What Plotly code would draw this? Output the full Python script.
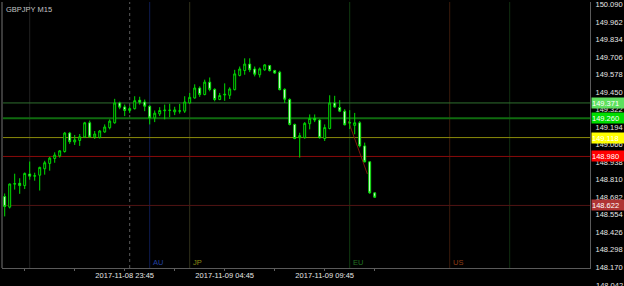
import pandas as pd
import plotly.graph_objects as go

# ---- data ----
first_bar = "2017-11-08 17:45"
bar_minutes = 15

opens = [148.687, 148.610, 148.778, 148.784, 148.767, 148.852, 148.836, 148.843, 148.890, 148.929,
         148.965, 148.984, 149.016, 149.151, 149.086, 149.097, 149.122, 149.226, 149.122, 149.119,
         149.159, 149.190, 149.226, 149.371, 149.342, 149.316, 149.329, 149.391, 149.378, 149.347,
         149.262, 149.291, 149.314, 149.316, 149.306, 149.311, 149.311, 149.371, 149.407, 149.480,
         149.432, 149.523, 149.470, 149.396, 149.429, 149.427, 149.468, 149.572, 149.608, 149.655,
         149.619, 149.577, 149.613, 149.644, 149.608, 149.596, 149.470, 149.396, 149.214, 149.117,
         149.117, 149.219, 149.258, 149.246, 149.111, 149.184, 149.371, 149.338, 149.311, 149.224,
         149.207, 149.226, 149.057, 148.941, 148.714]
highs = [148.709, 148.781, 148.854, 148.821, 148.863, 148.943, 148.861, 148.905, 148.948, 148.977,
         149.010, 149.026, 149.159, 149.159, 149.137, 149.144, 149.233, 149.242, 149.166, 149.173,
         149.214, 149.251, 149.401, 149.380, 149.359, 149.347, 149.420, 149.416, 149.396, 149.354,
         149.316, 149.340, 149.359, 149.365, 149.343, 149.364, 149.420, 149.444, 149.507, 149.492,
         149.541, 149.557, 149.478, 149.444, 149.514, 149.485, 149.613, 149.637, 149.697, 149.697,
         149.637, 149.630, 149.654, 149.649, 149.613, 149.606, 149.478, 149.405, 149.220, 149.153,
         149.231, 149.287, 149.287, 149.253, 149.214, 149.427, 149.423, 149.391, 149.325, 149.318,
         149.298, 149.238, 149.081, 148.945, 148.718]
lows = [148.542, 148.600, 148.738, 148.707, 148.742, 148.810, 148.803, 148.731, 148.847, 148.876,
        148.934, 148.972, 149.008, 149.072, 149.064, 149.057, 149.115, 149.117, 149.108, 149.111,
        149.153, 149.178, 149.219, 149.325, 149.275, 149.296, 149.323, 149.359, 149.311, 149.214,
        149.231, 149.275, 149.251, 149.267, 149.282, 149.293, 149.298, 149.365, 149.403, 149.415,
        149.427, 149.456, 149.383, 149.391, 149.386, 149.400, 149.463, 149.565, 149.577, 149.596,
        149.565, 149.557, 149.606, 149.601, 149.584, 149.463, 149.371, 149.207, 149.106, 148.972,
        149.110, 149.178, 149.231, 149.110, 149.093, 149.178, 149.335, 149.304, 149.207, 149.180,
        149.142, 149.046, 148.936, 148.707, 148.678]
closes = [148.615, 148.779, 148.781, 148.767, 148.856, 148.836, 148.839, 148.900, 148.934, 148.968,
          148.990, 149.021, 149.151, 149.088, 149.101, 149.124, 149.226, 149.122, 149.144, 149.166,
          149.195, 149.238, 149.371, 149.340, 149.316, 149.330, 149.387, 149.376, 149.347, 149.262,
          149.296, 149.316, 149.318, 149.318, 149.320, 149.313, 149.378, 149.412, 149.480, 149.432,
          149.523, 149.470, 149.396, 149.425, 149.434, 149.473, 149.583, 149.619, 149.655, 149.613,
          149.581, 149.620, 149.649, 149.607, 149.589, 149.468, 149.398, 149.214, 149.111, 149.132,
          149.222, 149.258, 149.246, 149.117, 149.191, 149.371, 149.341, 149.311, 149.211, 149.227,
          149.226, 149.057, 148.941, 148.714, 148.682]

# horizontal price levels: (price, line colour, line width, tag colour)
level_prices = [149.371, 149.260, 149.118, 148.980, 148.622]
level_line_colors = ["#2f6f2f", "#0f6a0f", "#8a8a0a", "#8a0a0a", "#501414"]
level_line_widths = [1, 2, 1, 1, 1]
level_tag_colors = ["#5ee05e", "#00dd00", "#ffff00", "#ff0000", "#b03434"]

# session separators
session_names = ["AU", "JP", "EU", "US"]
session_times = ["2017-11-09 01:00", "2017-11-09 03:00", "2017-11-09 11:00", "2017-11-09 16:00"]
session_colors = ["#0e1c52", "#30301a", "#113a11", "#3a1b0c"]
session_text_colors = ["#2040a0", "#8c8c14", "#207020", "#8c3c14"]
other_vlines = ["2017-11-08 19:00", "2017-11-09 19:00"]
other_vline_colors = ["#202020", "#112f11"]
day_separator = "2017-11-09 00:00"

# drawn trend line
trend_times = ["2017-11-09 10:56", "2017-11-09 11:53"]
trend_prices = [149.238, 148.852]

# axes
x_range = ["2017-11-08 17:36:54", "2017-11-09 23:00:54"]
y_range = [148.165, 150.1085]
x_tick_times = ["2017-11-08 18:45", "2017-11-08 21:15", "2017-11-08 23:45", "2017-11-09 02:15",
                "2017-11-09 04:45", "2017-11-09 07:15", "2017-11-09 09:45", "2017-11-09 12:15"]
x_tick_text = ["", "", "2017-11-08 23:45", "", "2017-11-09 04:45", "", "2017-11-09 09:45", ""]
y_ticks = [148.170, 148.298, 148.426, 148.554, 148.682, 148.810, 148.938, 149.066, 149.194,
           149.322, 149.450, 149.578, 149.706, 149.834, 149.962, 150.090]
y_tick_below = 148.042
title_text = "GBPJPY M15"

# ---- figure ----
times = pd.date_range(first_bar, periods=len(opens), freq=f"{bar_minutes}min")
FONT = "Liberation Sans"
CANDLE = "#00dc00"

fig = go.Figure()
fig.add_trace(go.Candlestick(
    x=times, open=opens, high=highs, low=lows, close=closes,
    increasing=dict(line=dict(color=CANDLE, width=1), fillcolor="#000000"),
    decreasing=dict(line=dict(color=CANDLE, width=1), fillcolor="#ffffff"),
    whiskerwidth=0, hoverinfo="skip", showlegend=False,
))

shapes = []
for t, c in zip(other_vlines, other_vline_colors):
    shapes.append(dict(type="line", xref="x", yref="paper", x0=t, x1=t, y0=0, y1=1,
                       line=dict(color=c, width=1), layer="below"))
shapes.append(dict(type="line", xref="x", yref="paper", x0=day_separator, x1=day_separator,
                   y0=0, y1=1, line=dict(color="#5a5a5a", width=1, dash="dot"), layer="below"))
for t, c in zip(session_times, session_colors):
    shapes.append(dict(type="line", xref="x", yref="paper", x0=t, x1=t, y0=0, y1=1,
                       line=dict(color=c, width=1), layer="below"))
for p, c, w in zip(level_prices, level_line_colors, level_line_widths):
    shapes.append(dict(type="line", xref="paper", yref="y", x0=0, x1=1, y0=p, y1=p,
                       line=dict(color=c, width=w), layer="below"))
shapes.append(dict(type="line", xref="x", yref="y", x0=trend_times[0], x1=trend_times[1],
                   y0=trend_prices[0], y1=trend_prices[1],
                   line=dict(color="#7a1a0a", width=1), layer="below"))
# left frame edge
shapes.append(dict(type="line", xref="paper", yref="paper", x0=0, x1=0, y0=0, y1=1,
                   line=dict(color="#3a3a3a", width=2)))

annotations = [dict(text=title_text, xref="paper", yref="paper", x=0, y=1, xanchor="left",
                    yanchor="top", xshift=2, yshift=-1, showarrow=False,
                    font=dict(family=FONT, size=7.5, color="#c4c4c4"))]
for name, t, c in zip(session_names, session_times, session_text_colors):
    annotations.append(dict(text=name, xref="x", yref="paper", x=t, y=0, xanchor="left",
                            yanchor="bottom", xshift=1, yshift=-1, showarrow=False,
                            font=dict(family=FONT, size=7.5, color=c)))
for p, c in zip(level_prices, level_tag_colors):
    annotations.append(dict(text=f"{p:.3f}", xref="paper", yref="y", x=1, y=p,
                            xanchor="left", yanchor="middle", xshift=1, showarrow=False,
                            bgcolor=c, width=33, height=10, borderpad=0, align="left",
                            font=dict(family=FONT, size=7.5, color="#ffffff")))
# partly visible tick label below the plot area
annotations.append(dict(text=f"{y_tick_below:.3f}", xref="paper", yref="paper", x=1, y=0,
                        xanchor="left", yanchor="middle", xshift=4, yshift=-17, showarrow=False,
                        font=dict(family=FONT, size=7.5, color="#e6e6e6")))

fig.update_layout(
    width=624, height=286,
    margin=dict(l=2, r=34, t=0, b=18),
    paper_bgcolor="#000000", plot_bgcolor="#000000",
    shapes=shapes, annotations=annotations,
    font=dict(family=FONT, size=7.5, color="#e6e6e6"),
    hovermode=False,
    boxgap=0.45,
    xaxis=dict(type="date", range=x_range, rangeslider=dict(visible=False),
               tickvals=x_tick_times, ticktext=x_tick_text, ticks="outside", ticklen=2,
               tickcolor="#606060", showgrid=False, zeroline=False, showline=True,
               linecolor="#5a5a5a", linewidth=1, ticklabelstandoff=-2,
               tickfont=dict(family=FONT, size=7.5, color="#e6e6e6")),
    yaxis=dict(range=y_range, side="right", tickvals=y_ticks,
               ticktext=[f"{v:.3f}" for v in y_ticks], ticks="outside", ticklen=3,
               tickcolor="#000000", showgrid=False, zeroline=False, showline=True,
               linecolor="#5a5a5a", linewidth=1, ticklabeloverflow="allow",
               tickfont=dict(family=FONT, size=7.5, color="#e6e6e6")),
)

fig.write_html("out.html")
